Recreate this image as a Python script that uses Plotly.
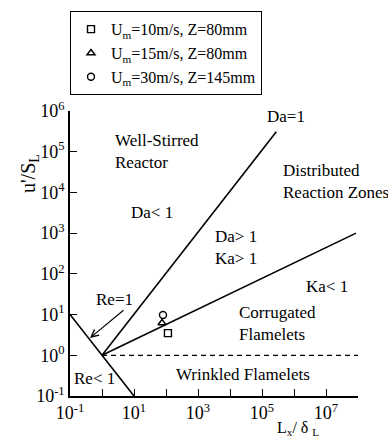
import plotly.graph_objects as go

FONT = "Liberation Serif"

# Regime boundary lines (L_x/delta_L, u'/S_L)
re1_x = [0.1, 10]
re1_y = [10, 0.1]
da1_x = [1, 2.8e5]
da1_y = [1, 3.1e5]
ka1_x = [1, 8.7e7]
ka1_y = [1, 1e3]
wr_x = [1, 1e8]
wr_y = [1, 1]

# Measured points
series_names = ["U<sub>m</sub>=10m/s, Z=80mm",
                "U<sub>m</sub>=15m/s, Z=80mm",
                "U<sub>m</sub>=30m/s, Z=145mm"]
series_symbols = ["square-open", "triangle-up-open", "circle-open"]
pts_x = [115, 75, 80.5]
pts_y = [3.5, 6.2, 9.8]

# Axis ticks
x_tickvals = [1e-1, 1e0, 1e1, 1e2, 1e3, 1e4, 1e5, 1e6, 1e7, 1e8]
x_ticktext = ["10<sup>-1</sup>", "", "10<sup>1</sup>", "", "10<sup>3</sup>", "",
              "10<sup>5</sup>", "", "10<sup>7</sup>", ""]
y_tickvals = [1e-1, 1e0, 1e1, 1e2, 1e3, 1e4, 1e5, 1e6]
y_ticktext = ["10<sup>-1</sup>", "10<sup>0</sup>", "10<sup>1</sup>", "10<sup>2</sup>",
              "10<sup>3</sup>", "10<sup>4</sup>", "10<sup>5</sup>", "10<sup>6</sup>"]

fig = go.Figure()
line_style = dict(color="black", width=1.6)
for xs, ys in [(re1_x, re1_y), (da1_x, da1_y), (ka1_x, ka1_y)]:
    fig.add_trace(go.Scatter(x=xs, y=ys, mode="lines", line=line_style,
                             showlegend=False, hoverinfo="skip"))
fig.add_trace(go.Scatter(x=wr_x, y=wr_y, mode="lines",
                         line=dict(color="black", width=1.2, dash="5px,4px"),
                         showlegend=False, hoverinfo="skip"))

for name, sym, x, y in zip(series_names, series_symbols, pts_x, pts_y):
    fig.add_trace(go.Scatter(x=[x], y=[y], mode="markers", name=name,
                             marker=dict(symbol=sym, size=7, color="black",
                                         line=dict(color="black", width=1.4))))

ann_font = dict(family=FONT, size=17, color="black")
labels = [
    ("Well-Stirred<br>Reactor", 0.344, 5.0, "left"),
    ("Da=1", 5.75, 5.855, "center"),
    ("Distributed<br>Reaction Zones", 5.59, 4.28, "left"),
    ("Da< 1", 1.56, 3.5, "center"),
    ("Da> 1<br>Ka> 1", 4.19, 2.64, "center"),
    ("Ka=1", 8.06, 3.35, "center"),
    ("Ka< 1", 7.03, 1.68, "center"),
    ("Re=1", 0.375, 1.36, "center"),
    ("Corrugated<br>Flamelets", 4.22, 0.78, "left"),
    ("Wrinkled Flamelets", 4.41, -0.48, "center"),
    ("Re< 1", -0.22, -0.56, "center"),
]
for text, lx, ly, anchor in labels:
    fig.add_annotation(x=lx, y=ly, xref="x", yref="y", text=text, showarrow=False,
                       xanchor=anchor, align=anchor, font=ann_font)

# Arrow pointing to the Re=1 line
fig.add_annotation(x=-0.375, y=0.425, xref="x", yref="y", text="", showarrow=True,
                   ax=35, ay=-29, arrowhead=5, arrowsize=1.2, arrowwidth=1.2,
                   arrowcolor="black")

# Axis titles
fig.add_annotation(x=0.87, y=-0.155, xref="paper", yref="paper",
                   text="L<sub>x</sub>/ δ <sub>L</sub>", showarrow=False,
                   font=dict(family=FONT, size=16, color="black"))
fig.add_annotation(x=-0.191, y=0.856, xref="paper", yref="paper",
                   text="u'/S<sub>L</sub>", showarrow=False, textangle=-90,
                   font=dict(family=FONT, size=20, color="black"))

axis_common = dict(type="log", showline=True, linecolor="black", linewidth=1.5,
                   ticks="inside", ticklen=7, tickwidth=1, tickcolor="black",
                   showgrid=False, zeroline=False, mirror=False,
                   tickfont=dict(family=FONT, size=18, color="black"))
fig.update_xaxes(range=[-1, 8], tickvals=x_tickvals, ticktext=x_ticktext, **axis_common)
fig.update_yaxes(range=[-1, 6], tickvals=y_tickvals, ticktext=y_ticktext, **axis_common)

fig.update_layout(
    width=388, height=445,
    margin=dict(l=70, r=30, t=111, b=49, autoexpand=False),
    paper_bgcolor="white", plot_bgcolor="white",
    font=dict(family=FONT, color="black"),
    legend=dict(x=0.0, y=1.35, xanchor="left", yanchor="top",
                bgcolor="white", bordercolor="black", borderwidth=1,
                font=dict(family=FONT, size=16, color="black"),
                tracegroupgap=0, itemwidth=30),
)

fig.write_html("out.html")
